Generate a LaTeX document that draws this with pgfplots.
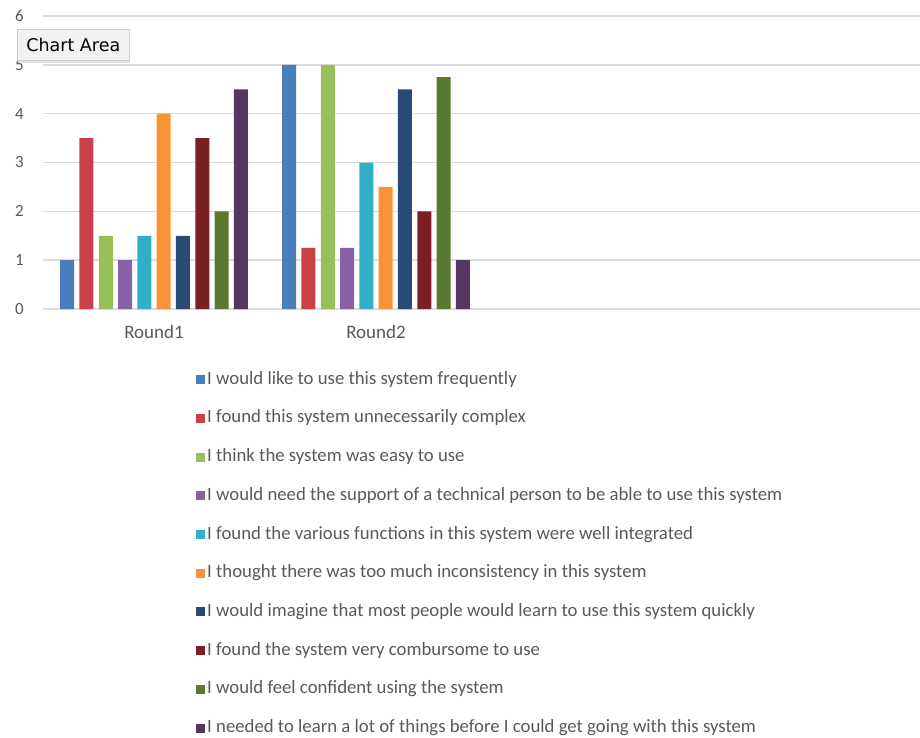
\documentclass[border=0pt]{standalone}
\usepackage{pgfplots}
\pgfplotsset{compat=1.18}
\usepackage{fontspec}
\setmainfont{Carlito}
\newfontfamily\macfont{DejaVu Sans}
\usetikzlibrary{shadows}

\definecolor{s1}{HTML}{4A7EBB}
\definecolor{s2}{HTML}{C94046}
\definecolor{s3}{HTML}{97C05B}
\definecolor{s4}{HTML}{8760A5}
\definecolor{s5}{HTML}{32AFC8}
\definecolor{s6}{HTML}{F99335}
\definecolor{s7}{HTML}{284A75}
\definecolor{s8}{HTML}{7A1F23}
\definecolor{s9}{HTML}{5B7830}
\definecolor{s10}{HTML}{543763}
\definecolor{txt}{HTML}{595959}
\definecolor{gridc}{HTML}{DCDCDC}

\begin{document}
\begin{tikzpicture}
  \path[use as bounding box] (0pt,0pt) rectangle (920pt,-737pt);

  \begin{axis}[
    at={(43pt,-309pt)}, anchor=south west,
    scale only axis,
    width=877pt, height=293pt,
    xmin=-0.5, xmax=3.45,
    ymin=0, ymax=6,
    ytick={0,1,2,3,4,5,6},
    xtick={0,1},
    xticklabels={Round1,Round2},
    axis line style={draw=none},
    major tick length=0pt,
    ymajorgrids,
    grid style={line width=1.5pt, color=gridc},
    ybar=5.3pt, bar width=14pt,
    /pgf/number format/assume math mode=true,
    ticklabel style={text=txt},
    yticklabel style={font=\fontsize{17}{20}\selectfont, inner sep=0pt, xshift=-19pt},
    xticklabel style={font=\fontsize{19}{22}\selectfont, inner sep=0pt, yshift=-16pt},
    legend style={
      at={(0.1705,-0.205)}, anchor=north west,
      draw=none, fill=none,
      font=\fontsize{18.75}{22}\selectfont, text=txt,
      row sep=21.7pt,
      nodes={inner sep=0pt, inner xsep=2.5pt, text height=13pt, text depth=4pt},
      cells={anchor=west},
    },
    legend image code/.code={\fill[#1] (0pt,-4.5pt) rectangle (9pt,4.5pt);},
  ]
    \addplot[fill=s1, draw=none] coordinates {(0,1) (1,5)};
    \addplot[fill=s2, draw=none] coordinates {(0,3.5) (1,1.25)};
    \addplot[fill=s3, draw=none] coordinates {(0,1.5) (1,5)};
    \addplot[fill=s4, draw=none] coordinates {(0,1) (1,1.25)};
    \addplot[fill=s5, draw=none] coordinates {(0,1.5) (1,3)};
    \addplot[fill=s6, draw=none] coordinates {(0,4) (1,2.5)};
    \addplot[fill=s7, draw=none] coordinates {(0,1.5) (1,4.5)};
    \addplot[fill=s8, draw=none] coordinates {(0,3.5) (1,2)};
    \addplot[fill=s9, draw=none] coordinates {(0,2) (1,4.75)};
    \addplot[fill=s10, draw=none] coordinates {(0,4.5) (1,1)};
    \legend{
      I would like to use this system frequently,
      I found this system unnecessarily complex,
      I think the system was easy to use,
      I would need the support of a technical person to be able to use this system,
      I found the various functions in this system were well integrated,
      I thought there was too much inconsistency in this system,
      I would imagine that most people would learn to use this system quickly,
      I found the system very combursome to use,
      I would feel confident using the system,
      I needed to learn a lot of things before I could get going with this system
    }
  \end{axis}

  % tooltip box over the plot
  \node[anchor=north west, minimum width=112pt, minimum height=31pt,
        fill=black!5, draw=black!20, line width=0.6pt,
        drop shadow={opacity=0.25, shadow xshift=1pt, shadow yshift=-3pt},
        font=\macfont\fontsize{17.5}{20}\selectfont, text=black]
    at (17pt,-29pt) {Chart Area};
\end{tikzpicture}
\end{document}
